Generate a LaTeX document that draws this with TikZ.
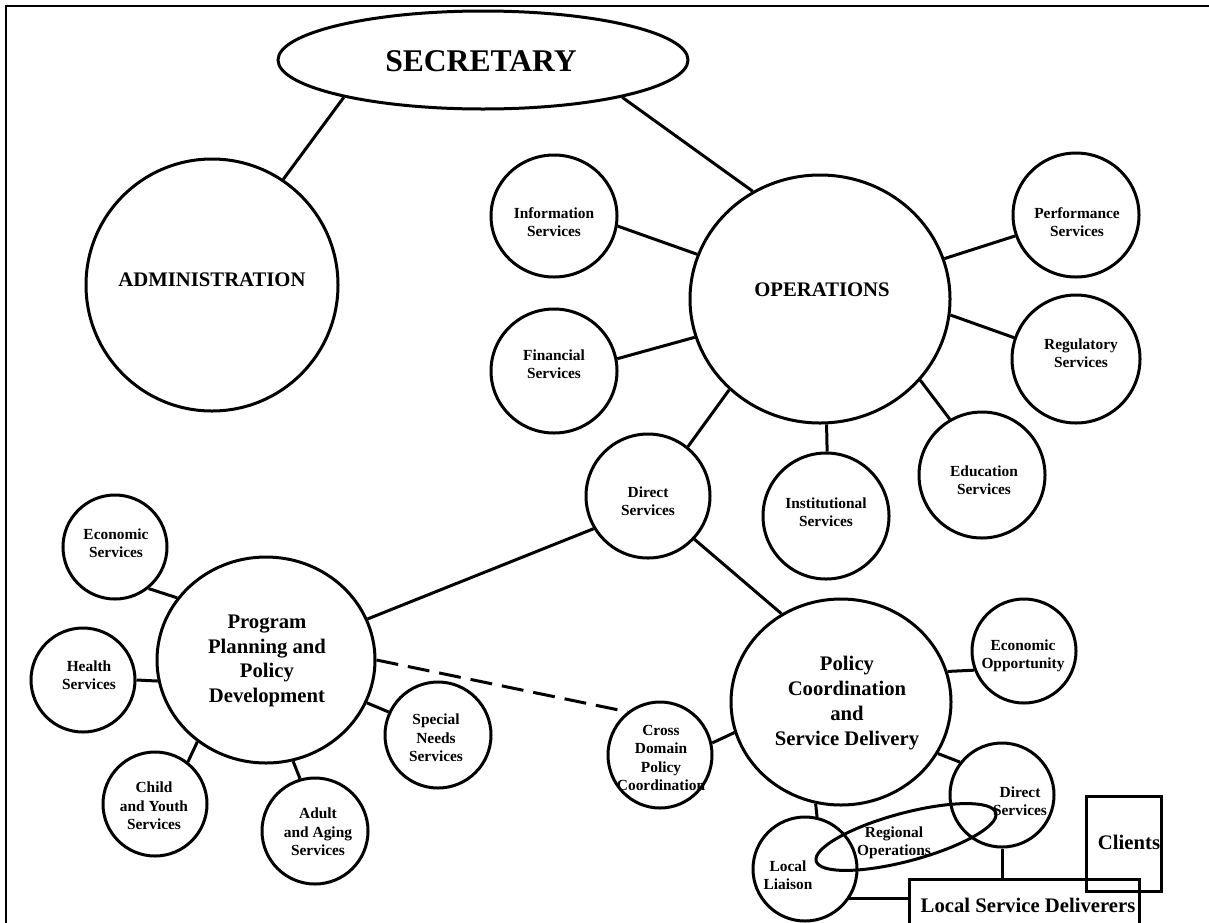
\documentclass[tikz,border=0pt]{standalone}
\usepackage{fontspec}
\setmainfont{Liberation Serif}
\usetikzlibrary{shapes.geometric}
\newcommand\smallbf{\fontsize{7.7pt}{9.25pt}\selectfont\bfseries}
\newcommand\midbf{\fontsize{10.35pt}{12.4pt}\selectfont\bfseries}
\newcommand\bigbf{\fontsize{15.8pt}{18pt}\selectfont\bfseries}

\begin{document}
\begin{tikzpicture}[x=0.5pt,y=-0.5pt,
  bubble/.style 2 args={draw, ellipse, inner sep=0pt, line width=1.5pt,
                        minimum width=#1pt, minimum height=#2pt},
  small/.style={font=\smallbf, align=center, inner sep=0pt},
  mid/.style={font=\midbf, align=center, inner sep=0pt},
  link/.style={line width=1.5pt},
  box/.style={draw, rectangle, line width=1.5pt, inner sep=0pt}
]
\useasboundingbox (0,0) rectangle (1209,922);

% outer frame (open towards right and bottom)
\draw[line width=1.1pt] (6,940) -- (6,6) -- (1230,6);

% ---------- bubbles ----------
\node[bubble={205}{49}]  (sec)     at (483,60)  {};
\node[bubble={126}{126}] (admin)   at (212,285) {};
\node[bubble={130}{124}] (ops)     at (820,299) {};
\node[bubble={63}{61}]   (info)    at (554,216) {};
\node[bubble={63}{62}]   (fin)     at (554,371) {};
\node[bubble={63}{62}]   (perf)    at (1076,215) {};
\node[bubble={64}{64}]   (reg)     at (1076,359) {};
\node[bubble={63}{63}]   (edu)     at (982,475) {};
\node[bubble={63}{63}]   (inst)    at (826,516) {};
\node[bubble={62}{62}]   (dsu)     at (648,496) {};
\node[bubble={109}{103}] (pp)      at (266,660) {};
\node[bubble={52}{52}]   (econ)    at (115,547) {};
\node[bubble={52}{52}]   (health)  at (83,680)  {};
\node[bubble={52}{52}]   (child)   at (155,804) {};
\node[bubble={53}{53}]   (adult)   at (315,831) {};
\node[bubble={53}{53}]   (special) at (438,735) {};
\node[bubble={52}{53}]   (cross)   at (660,755) {};
\node[bubble={110}{103}] (pc)      at (841,702) {};
\node[bubble={52}{52}]   (eo)      at (1024,651) {};
\node[bubble={52}{52}]   (dsl)     at (1002,795) {};
\node[bubble={52}{52}]   (ll)      at (805,869) {};
\node[draw, ellipse, inner sep=0pt, line width=1.5pt,
      minimum width=93pt, minimum height=24pt, rotate=15] (regop) at (906,837) {};

% ---------- boxes ----------
\node[box, minimum width=37.5pt, minimum height=47.5pt] (clients) at (1123.5,843.5) {};
\node[box, minimum width=115pt, minimum height=26pt] (lsd) at (1024,905) {};

% ---------- connectors ----------
\draw[link] (sec.195.7) -- (admin.56.6);
\draw[link] (sec.-15.7) -- (ops.122.3);
\draw[link] (info.-9.9) -- (ops.160.4);
\draw[link] (fin.11.7) -- (ops.197.8);
\draw[link] (ops.18.9) -- (perf.199.8);
\draw[link] (ops.-7.9) -- (reg.161.8);
\draw[link] (ops.-39) -- (edu.120.2);
\draw[link] (ops.-87) -- (inst.89);
\draw[link] (ops.225.6) -- (dsu.51.6);
\draw[link] (dsu.211.3) -- (pp.22.9);
\draw[link] (dsu.-43.7) -- (pc.124.3);
\draw[link] (econ.-51.2) -- (pp.145.1);
\draw[link] (health.0) -- (pp.191);
\draw[link] (pp.230.3) -- (child.52);
\draw[link] (pp.-75.8) -- (adult.106.4);
\draw[link] (pp.-23.8) -- (special.155.4);
\draw[link, dash pattern=on 11pt off 5pt] (pp.0) -- (cross.127.5);
\draw[link] (cross.13.2) -- (pc.196);
\draw[link] (pc.16.2) -- (eo.201.2);
\draw[link] (pc.-28.2) -- (dsl.142);
\draw[link] (pc.256.9) -- (ll.77);
\draw[link] (dsl.south) -- (dsl.south |- lsd.north);
\draw[link] (ll.-34.6) -- (ll.-34.6 -| lsd.west);

% ---------- labels ----------
\node[font=\bigbf, inner sep=0pt] (sec-t) at (481,61) {SECRETARY};
\node[mid] (admin-t) at (212,280) {ADMINISTRATION};
\node[mid] (ops-t)   at (822,290) {OPERATIONS};
\node[small] (info-t)  at (554,222)  {Information\\Services};
\node[small] (fin-t)   at (554,364)  {Financial\\Services};
\node[small] (perf-t)  at (1077,222) {Performance\\Services};
\node[small] (reg-t)   at (1081,353) {Regulatory\\Services};
\node[small] (edu-t)   at (984,480)  {Education\\Services};
\node[small] (inst-t)  at (826,512)  {Institutional\\Services};
\node[small] (dsu-t)   at (648,501)  {Direct\\Services};
\node[mid]   (pp-t)    at (267,661)  {Program\\Planning and\\Policy\\Development};
\node[small] (econ-t)  at (116,543)  {Economic\\Services};
\node[small] (health-t) at (89,675)  {Health\\Services};
\node[small] (child-t) at (154,806)  {Child\\and Youth\\Services};
\node[small] (adult-t) at (318,832)  {Adult\\and Aging\\Services};
\node[small] (special-t) at (436,738) {Special\\Needs\\Services};
\node[small] (cross-t) at (661,758)  {Cross\\Domain\\Policy\\Coordination};
\node[mid]   (pc-t)    at (847,703)  {Policy\\Coordination\\and\\Service Delivery};
\node[small] (eo-t)    at (1023,656) {Economic\\Opportunity};
\node[small] (dsl-t)   at (1020,801) {Direct\\Services};
\node[small] (ll-t)    at (788,875)  {Local\\Liaison};
\node[small] (regop-t) at (894,843)  {Regional\\Operations};
\node[mid] (clients-t) at (1129,842) {Clients};
\node[mid] (lsd-t)     at (1028,905) {Local Service Deliverers};
\end{tikzpicture}
\end{document}
